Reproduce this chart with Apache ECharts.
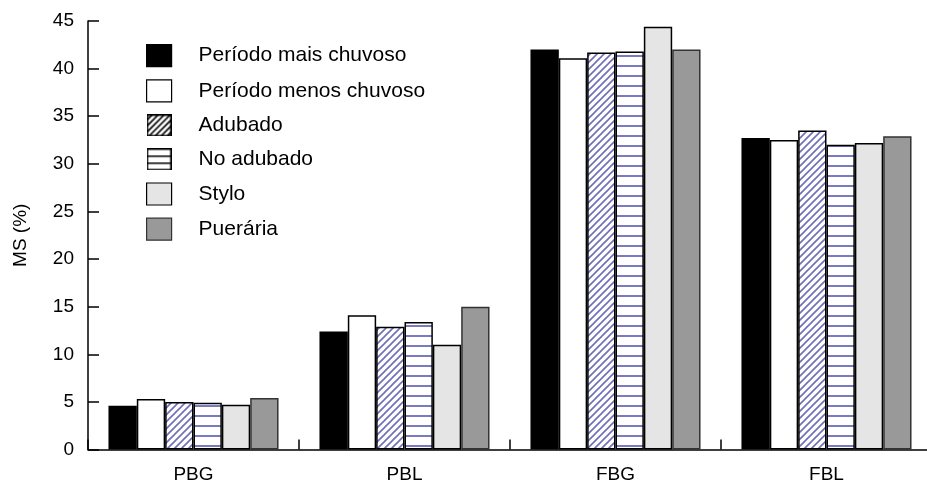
<!DOCTYPE html>
<html>
<head>
<meta charset="utf-8">
<script src="https://cdn.jsdelivr.net/npm/echarts@6/dist/echarts.min.js"></script>
<style>
html,body{margin:0;padding:0;background:#fff;}
#chart{width:927px;height:482px;}
</style>
</head>
<body>
<div id="chart"></div>
<script>
// ---- data ----
const categories = ['PBG', 'PBL', 'FBG', 'FBL'];
const seriesNames = ['Período mais chuvoso', 'Período menos chuvoso', 'Adubado', 'No adubado', 'Stylo', 'Puerária'];
const maisChuvoso  = [4.6, 12.4, 42.0, 32.7];
const menosChuvoso = [5.3, 14.1, 41.1, 32.5];
const adubado      = [5.0, 12.9, 41.7, 33.5];
const noAdubado    = [4.9, 13.4, 41.8, 32.0];
const stylo        = [4.7, 11.0, 44.4, 32.2];
const pueraria     = [5.4, 15.0, 42.0, 32.9];
const yTicks = [0, 5, 10, 15, 20, 25, 30, 35, 40, 45];

// ---- patterns ----
function diagPattern(color, size, lw, bg) {
  const c = document.createElement('canvas');
  c.width = size; c.height = size;
  const g = c.getContext('2d');
  g.fillStyle = bg; g.fillRect(0, 0, size, size);
  g.strokeStyle = color; g.lineWidth = lw;
  g.beginPath();
  g.moveTo(-1, size + 1); g.lineTo(size + 1, -1);
  g.moveTo(-1, 1); g.lineTo(1, -1);
  g.moveTo(size - 1, size + 1); g.lineTo(size + 1, size - 1);
  g.stroke();
  return { image: c, repeat: 'repeat' };
}
function horizPattern(color, period, lw, bg) {
  const c = document.createElement('canvas');
  c.width = 8; c.height = period;
  const g = c.getContext('2d');
  g.fillStyle = bg; g.fillRect(0, 0, 8, period);
  g.fillStyle = color; g.fillRect(0, Math.round(period / 2), 8, lw);
  return { image: c, repeat: 'repeat' };
}
// legend icon images (25x22)
function iconHatch() {
  const w = 25, h = 22;
  const c = document.createElement('canvas');
  c.width = w; c.height = h;
  const g = c.getContext('2d');
  g.fillStyle = '#fff'; g.fillRect(0, 0, w, h);
  g.save();
  g.beginPath(); g.rect(0, 0, w, h); g.clip();
  g.strokeStyle = '#000'; g.lineWidth = 1.6;
  g.beginPath();
  for (let x = -h; x < w + h; x += 6) { g.moveTo(x, h); g.lineTo(x + h, 0); }
  g.stroke();
  g.restore();
  g.strokeStyle = '#000'; g.lineWidth = 1.5;
  g.strokeRect(0.75, 0.75, w - 1.5, h - 1.5);
  return 'image://' + c.toDataURL();
}
function iconHoriz() {
  const w = 25, h = 22;
  const c = document.createElement('canvas');
  c.width = w; c.height = h;
  const g = c.getContext('2d');
  g.fillStyle = '#fff'; g.fillRect(0, 0, w, h);
  g.fillStyle = '#000';
  g.fillRect(0, 7, w, 1.5);
  g.fillRect(0, 14, w, 1.5);
  g.strokeStyle = '#000'; g.lineWidth = 1.5;
  g.strokeRect(0.75, 0.75, w - 1.5, h - 1.5);
  return 'image://' + c.toDataURL();
}
const hatchBlue = diagPattern('#6f6fb8', 7, 1.6, '#ffffff');
const horizBlue = horizPattern('#7a7ac2', 10, 2, '#ffffff');

const values = [maisChuvoso, menosChuvoso, adubado, noAdubado, stylo, pueraria];
const fills = ['#000000', '#ffffff', hatchBlue, horizBlue, '#e5e5e5', '#999999'];
const borders = ['#000000', '#000000', '#000000', '#000000', '#000000', '#333333'];
const legendIcons = ['rect', 'rect', iconHatch(), iconHoriz(), 'rect', 'rect'];

const chart = echarts.init(document.getElementById('chart'), null, { renderer: 'canvas' });
const font = 'Liberation Sans, Arial, sans-serif';

chart.setOption({
  animation: false,
  backgroundColor: '#ffffff',
  grid: { left: 88, right: -5, top: 21, bottom: 32.5, containLabel: false, outerBoundsMode: 'none' },
  legend: {
    orient: 'vertical',
    left: 146, top: 44,
    itemWidth: 25, itemHeight: 22, itemGap: 12,
    padding: 0,
    textStyle: { fontSize: 21, lineHeight: 22, color: '#000', fontFamily: font, padding: [0, 0, 0, 22] },
    data: seriesNames.map((n, i) => ({
      name: n,
      icon: legendIcons[i],
      itemStyle: { borderColor: borders[i], borderWidth: 1.2 }
    }))
  },
  xAxis: {
    type: 'category',
    data: categories,
    axisLine: { lineStyle: { color: '#000', width: 1.5 } },
    axisTick: { show: true, inside: true, length: 10, lineStyle: { color: '#000', width: 1.5 } },
    axisLabel: { color: '#000', fontSize: 19, fontFamily: font, margin: 16 },
    splitLine: { show: false }
  },
  yAxis: {
    type: 'value',
    min: yTicks[0], max: yTicks[yTicks.length - 1], interval: 5,
    name: 'MS (%)',
    nameLocation: 'middle',
    nameGap: 58,
    nameTextStyle: { color: '#000', fontSize: 19, fontFamily: font },
    axisLine: { show: true, lineStyle: { color: '#000', width: 1.5 } },
    axisTick: { show: true, inside: true, length: 11, lineStyle: { color: '#000', width: 1.5 } },
    axisLabel: { color: '#000', fontSize: 19, fontFamily: font, margin: 14 },
    splitLine: { show: false }
  },
  series: seriesNames.map((n, i) => ({
    name: n,
    type: 'bar',
    data: values[i],
    barGap: '0%',
    barCategoryGap: '19.4%',
    itemStyle: { color: fills[i], borderColor: borders[i], borderWidth: 1.5 }
  }))
});
</script>
</body>
</html>
